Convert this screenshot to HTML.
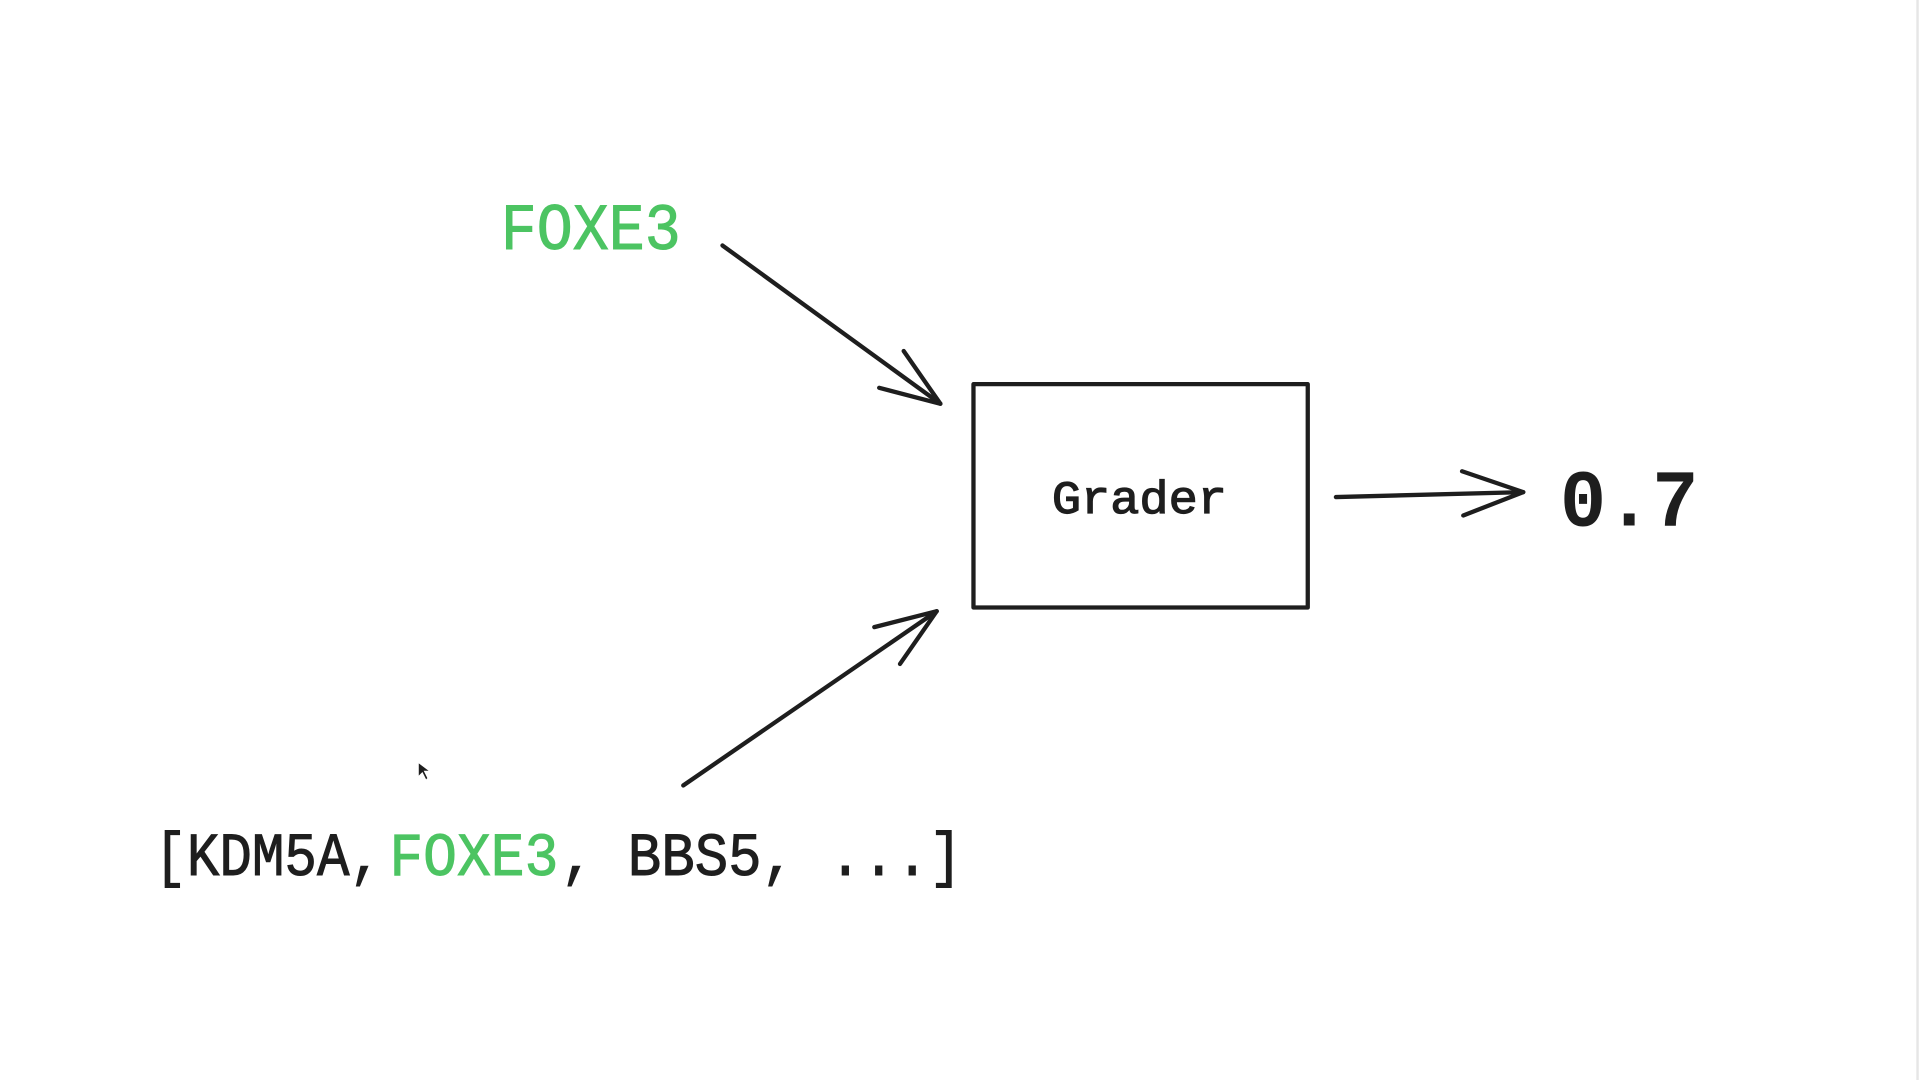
<!DOCTYPE html>
<html><head><meta charset="utf-8"><style>html,body{margin:0;padding:0;background:#fff;overflow:hidden}</style></head>
<body>
<svg width="1920" height="1080" viewBox="0 0 1568 880" preserveAspectRatio="none" xmlns="http://www.w3.org/2000/svg">
<rect width="1568" height="880" fill="#fff"/>
<line x1="1566" y1="0" x2="1566" y2="880" stroke="#e6e6e6" stroke-width="2"/>
<g font-family="Liberation Mono, DejaVu Sans Mono, monospace">
<text x="409" y="203" font-size="54" fill="#4cc462" stroke="#4cc462" stroke-width="0.8" textLength="147" lengthAdjust="spacingAndGlyphs">FOXE3</text>
<text x="859" y="418" font-size="38" fill="#1e1e1e" stroke="#1e1e1e" stroke-width="1" textLength="143" lengthAdjust="spacingAndGlyphs">Grader</text>
<text x="1274" y="428" font-size="66" fill="#1e1e1e" font-weight="bold" textLength="113" lengthAdjust="spacingAndGlyphs">0.7</text>
<text x="126" y="713" font-size="50" fill="#1e1e1e" stroke="#1e1e1e" stroke-width="0.8" textLength="186" lengthAdjust="spacingAndGlyphs">[KDM5A,</text>
<text x="318" y="713" font-size="50" fill="#4cc462" stroke="#4cc462" stroke-width="0.8" textLength="138" lengthAdjust="spacingAndGlyphs">FOXE3</text>
<text x="458" y="713" font-size="50" fill="#1e1e1e" stroke="#1e1e1e" stroke-width="0.8" textLength="328" lengthAdjust="spacingAndGlyphs">, BBS5,  ...]</text>
</g>
<g stroke="#1e1e1e" stroke-width="3.5" fill="none" stroke-linecap="round" stroke-linejoin="round">
<rect x="795" y="313" width="273" height="182"/>
<line x1="590" y1="200" x2="768" y2="329"/>
<polyline points="738,286 768,329 718,316"/>
<line x1="558" y1="640" x2="765" y2="498"/>
<polyline points="714,511 765,498 735,541"/>
<line x1="1091" y1="405" x2="1244" y2="401"/>
<polyline points="1194,384 1244,401 1195,420"/>
</g>
<path d="M342,622 L342,632 L345,629 L348,635 L349,634 L346,628 L350,628 Z" fill="#1e1e1e"/>
</svg>
</body></html>
